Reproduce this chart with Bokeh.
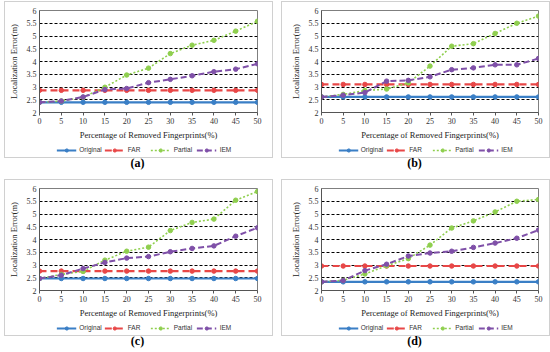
from bokeh.plotting import figure
from bokeh.layouts import column, row
from bokeh.models import Legend, LegendItem, Div, FixedTicker, Range1d
from bokeh.embed import file_html
from bokeh.resources import INLINE

x_pct = [0, 5, 10, 15, 20, 25, 30, 35, 40, 45, 50]
y_ticks = [2, 2.5, 3, 3.5, 4, 4.5, 5, 5.5, 6]
series_names = ["Original", "FAR", "Partial", "IEM"]

a_original = [2.40, 2.40, 2.40, 2.40, 2.40, 2.40, 2.40, 2.40, 2.40, 2.40, 2.40]
a_far = [2.87, 2.87, 2.87, 2.87, 2.87, 2.87, 2.87, 2.87, 2.87, 2.87, 2.87]
a_partial = [2.40, 2.45, 2.60, 2.99, 3.47, 3.74, 4.31, 4.64, 4.83, 5.19, 5.58]
a_iem = [2.40, 2.45, 2.61, 2.90, 2.94, 3.17, 3.30, 3.44, 3.60, 3.70, 3.91]

b_original = [2.61, 2.61, 2.61, 2.61, 2.61, 2.61, 2.61, 2.61, 2.61, 2.61, 2.61]
b_far = [3.10, 3.10, 3.10, 3.10, 3.10, 3.10, 3.10, 3.10, 3.10, 3.10, 3.10]
b_partial = [2.61, 2.71, 2.86, 2.92, 3.16, 3.82, 4.60, 4.70, 5.10, 5.50, 5.78]
b_iem = [2.61, 2.68, 2.78, 3.23, 3.26, 3.40, 3.68, 3.75, 3.87, 3.87, 4.12]

c_original = [2.47, 2.47, 2.47, 2.47, 2.47, 2.47, 2.47, 2.47, 2.47, 2.47, 2.47]
c_far = [2.76, 2.76, 2.76, 2.76, 2.76, 2.76, 2.76, 2.76, 2.76, 2.76, 2.76]
c_partial = [2.47, 2.63, 2.75, 3.19, 3.54, 3.70, 4.35, 4.67, 4.80, 5.54, 5.88]
c_iem = [2.47, 2.60, 2.86, 3.10, 3.27, 3.33, 3.52, 3.65, 3.75, 4.13, 4.46]

d_original = [2.34, 2.34, 2.34, 2.34, 2.34, 2.34, 2.34, 2.34, 2.34, 2.34, 2.34]
d_far = [2.96, 2.96, 2.96, 2.96, 2.96, 2.96, 2.96, 2.96, 2.96, 2.96, 2.96]
d_partial = [2.34, 2.40, 2.65, 2.97, 3.25, 3.78, 4.45, 4.73, 5.08, 5.50, 5.57]
d_iem = [2.34, 2.39, 2.78, 3.03, 3.35, 3.47, 3.54, 3.69, 3.86, 4.05, 4.37]

COLORS = ["#3a7fc6", "#e84747", "#8fcf4e", "#7f50a8"]
DASHES = ["solid", "7 4", "2 2", "6 3"]
WIDTHS = [2.2, 2.2, 1.6, 2.0]
SERIF = "Liberation Serif"
W = 267


def make_panel(series, caption, left_border, right_border, cap_h):
    p = figure(width=W, height=140, x_range=Range1d(0, 50), y_range=Range1d(2, 6),
               output_backend="svg", toolbar_location=None,
               min_border_left=left_border, min_border_right=right_border,
               min_border_top=8, min_border_bottom=29,
               background_fill_color="white", border_fill_color="white")
    p.outline_line_color = "#7f7f7f"
    p.outline_line_width = 1
    p.xgrid.visible = False
    p.ygrid.ticker = FixedTicker(ticks=y_ticks)
    p.ygrid.grid_line_color = "black"
    p.ygrid.grid_line_dash = "3 2"
    p.ygrid.grid_line_width = 1

    p.xaxis.ticker = FixedTicker(ticks=x_pct)
    p.yaxis.ticker = FixedTicker(ticks=y_ticks)
    p.xaxis.axis_label = "Percentage of Removed Fingerprints(%)"
    p.yaxis.axis_label = "Localization Error(m)"
    for ax in (p.xaxis, p.yaxis):
        ax.axis_label_text_font = SERIF
        ax.axis_label_text_font_style = "normal"
        ax.axis_label_text_font_size = "8.5px"
        ax.axis_label_text_color = "#222222"
        ax.major_label_text_font = SERIF
        ax.major_label_text_font_size = "8px"
        ax.major_label_text_color = "#333333"
        ax.minor_tick_line_color = None
        ax.axis_line_color = "#555555"
    p.xaxis.major_tick_out = 3
    p.xaxis.major_tick_in = 0
    p.xaxis.major_tick_line_color = "#555555"
    p.xaxis.major_label_standoff = 2
    p.xaxis.axis_label_standoff = 3
    p.yaxis.major_tick_out = 0
    p.yaxis.major_tick_in = 0
    p.yaxis.major_label_standoff = 3
    p.yaxis.axis_label_standoff = 5

    for ys, c, d, w in zip(series, COLORS, DASHES, WIDTHS):
        p.line(x_pct, ys, line_color=c, line_dash=d, line_width=w)
        p.scatter(x_pct, ys, size=4.5, fill_color=c, line_color=c)

    # legend strip below the axis title (its renderers lie outside its ranges)
    lf = figure(width=W, height=15, x_range=Range1d(100, 101), y_range=Range1d(100, 101),
                output_backend="svg", toolbar_location=None,
                x_axis_type=None, y_axis_type=None,
                min_border_left=left_border, min_border_right=right_border,
                min_border_top=0, min_border_bottom=0,
                background_fill_color="white", border_fill_color="white")
    lf.outline_line_color = None
    lf.xgrid.visible = False
    lf.ygrid.visible = False
    items = []
    for name, ys, c, d, w in zip(series_names, series, COLORS, DASHES, WIDTHS):
        r1 = lf.line(x_pct, ys, line_color=c, line_dash=d, line_width=w)
        r2 = lf.scatter(x_pct, ys, size=4.5, fill_color=c, line_color=c)
        items.append(LegendItem(label=name, renderers=[r1, r2]))
    leg = Legend(items=items, orientation="horizontal", location="center",
                 label_text_font="Liberation Sans", label_text_font_size="6.5px",
                 label_text_color="#333333", glyph_width=20, glyph_height=8,
                 spacing=3, padding=0, margin=0, border_line_color=None,
                 background_fill_alpha=0, label_standoff=3)
    lf.add_layout(leg, "center")

    box = column(p, lf, spacing=0, styles={"border": "1px solid #d0d0d0"})
    cap = Div(text="<b>" + caption + "</b>", width=W, height=cap_h, margin=0,
              styles={"text-align": "center", "font-family": SERIF,
                      "font-size": "12px", "line-height": "10px"})
    return column(box, cap, spacing=0)


pa = make_panel([a_original, a_far, a_partial, a_iem], "(a)", 34, 15, 21)
pb = make_panel([b_original, b_far, b_partial, b_iem], "(b)", 39, 11, 21)
pc = make_panel([c_original, c_far, c_partial, c_iem], "(c)", 34, 15, 16)
pd = make_panel([d_original, d_far, d_partial, d_iem], "(d)", 39, 11, 16)

layout = column(row(pa, pb, spacing=8), row(pc, pd, spacing=8), spacing=0,
                margin=(1, 0, 0, 4))

open("out.html", "w").write(file_html(layout, INLINE))
